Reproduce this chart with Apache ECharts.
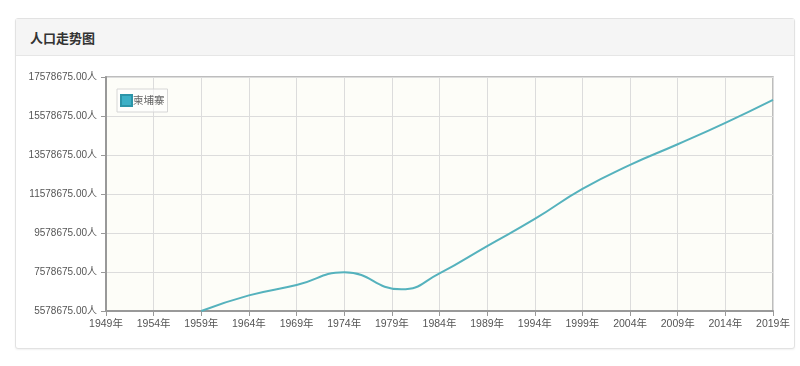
<!DOCTYPE html>
<html>
<head>
<meta charset="utf-8">
<script src="https://cdn.jsdelivr.net/npm/echarts@6/dist/echarts.min.js"></script>
<style>
  html, body { margin: 0; padding: 0; background: #fff; width: 800px; height: 366px; overflow: hidden; }
  #panel { position: absolute; left: 15px; top: 18px; width: 778px; height: 329px; border: 1px solid #e2e2e2; border-radius: 3px; box-shadow: 0 1px 2px rgba(0,0,0,0.06); background: #fff; }
  #head { position: absolute; left: 0; top: 0; right: 0; height: 36px; background: #f5f5f5; border-bottom: 1px solid #e6e6e6; }
  #title { position: absolute; left: 14px; top: 11px; font: bold 13px "Noto Sans CJK SC", sans-serif; color: #333; line-height: 16px; }
  #chart { position: absolute; left: 0; top: 0; width: 800px; height: 366px; }
</style>
</head>
<body>
<div id="panel"><div id="head"><div id="title">人口走势图</div></div></div>
<div id="chart"></div>
<script>
// Category labels (years on the x axis)
const years = ['1949','1950','1951','1952','1953','1954','1955','1956','1957','1958',
  '1959','1960','1961','1962','1963','1964','1965','1966','1967','1968',
  '1969','1970','1971','1972','1973','1974','1975','1976','1977','1978',
  '1979','1980','1981','1982','1983','1984','1985','1986','1987','1988',
  '1989','1990','1991','1992','1993','1994','1995','1996','1997','1998',
  '1999','2000','2001','2002','2003','2004','2005','2006','2007','2008',
  '2009','2010','2011','2012','2013','2014','2015','2016','2017','2018','2019'];
// Years with readable population values, and the values
const pointYears = ['1959','1964','1969','1974','1980','1984','1989','1994','1999','2004','2009','2014','2019'];
const population = [5578675, 6380000, 6910000, 7560000, 6690000, 7510000, 8910000, 10300000, 11840000, 13070000, 14130000, 15230000, 16410000];
const seriesName = '柬埔寨';
const yTicks = [5578675, 7578675, 9578675, 11578675, 13578675, 15578675, 17578675];

const lookup = {};
pointYears.forEach((y, i) => { lookup[y] = population[i]; });
const seriesData = years.map(y => (y in lookup ? lookup[y] : null));

const chart = echarts.init(document.getElementById('chart'), null, { renderer: 'canvas' });
const fontFam = '"Liberation Sans", "Noto Sans CJK SC", sans-serif';
chart.setOption({
  animation: false,
  backgroundColor: 'transparent',
  grid: { left: 106, top: 77, width: 667, height: 234, show: true, backgroundColor: '#fdfdf8', borderColor: '#a8a8a8', borderWidth: 1.5 },
  legend: {
    left: 117, top: 89, orient: 'vertical',
    padding: [5, 3, 5, 3],
    borderColor: '#d6d6d6', borderWidth: 1, backgroundColor: 'rgba(255,255,255,0.6)',
    itemWidth: 11, itemHeight: 11, icon: 'rect',
    textStyle: { color: '#666', fontSize: 10.5, fontFamily: '"Noto Sans CJK SC", sans-serif', padding: [0, 0, 0, -4] },
    data: [seriesName]
  },
  xAxis: {
    type: 'category', data: years, boundaryGap: false,
    axisLine: { lineStyle: { color: '#999', width: 2 } },
    axisTick: { interval: 4, length: 5, lineStyle: { color: '#999' } },
    axisLabel: { interval: 4, color: '#555', fontSize: 10.5, fontFamily: fontFam, margin: 8, formatter: v => v + '年' },
    splitLine: { show: true, interval: 4, lineStyle: { color: '#dcdcdc', width: 1 } }
  },
  yAxis: {
    type: 'value', min: yTicks[0], max: yTicks[yTicks.length - 1], interval: 2000000,
    axisLine: { show: true, lineStyle: { color: '#999', width: 2 } },
    axisTick: { show: true, length: 5, lineStyle: { color: '#999' } },
    axisLabel: { color: '#555', fontSize: 10, fontFamily: fontFam, margin: 9, formatter: v => v.toFixed(2) + '人' },
    splitLine: { show: true, lineStyle: { color: '#dcdcdc', width: 1 } }
  },
  series: [{
    name: seriesName, type: 'line', data: seriesData, connectNulls: true,
    smooth: 0.5, showSymbol: false, symbol: 'none',
    lineStyle: { color: '#55b2bd', width: 2 },
    itemStyle: { color: '#3cb0c6', borderColor: '#2c95a8', borderWidth: 1 }
  }]
});
</script>
</body>
</html>
